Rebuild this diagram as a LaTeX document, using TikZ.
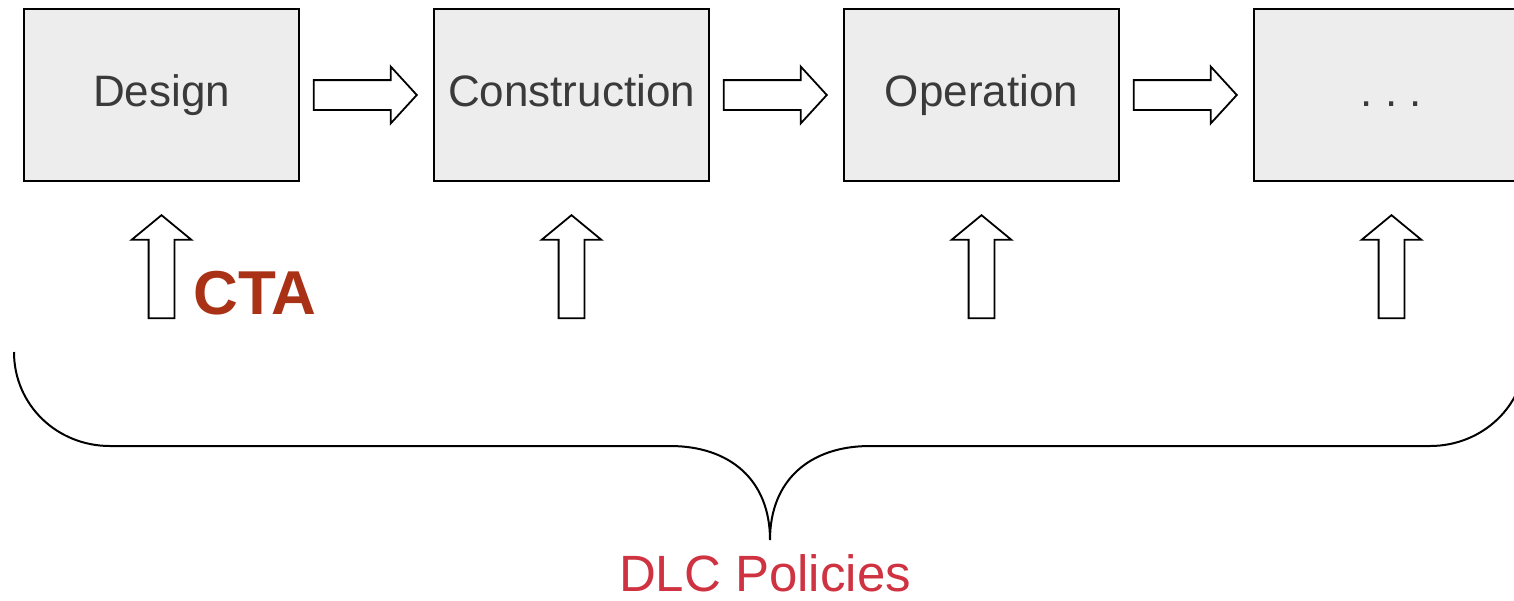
\documentclass[tikz,border=0pt]{standalone}
\usepackage{fontspec}
\setmainfont{Liberation Sans}
\usepackage{tikz}
\usetikzlibrary{calc,positioning,shapes.arrows}
\definecolor{boxfill}{RGB}{237,237,237}
\definecolor{boxtext}{RGB}{58,58,58}
\definecolor{ctared}{RGB}{169,50,22}
\definecolor{dlcred}{RGB}{207,50,64}

\begin{document}
\begin{tikzpicture}[x=1pt,y=-1pt,
    stage/.style={draw,line width=1.8pt,fill=boxfill,text=boxtext,
      minimum width=275pt,minimum height=172pt,inner sep=0pt,outer sep=0pt,
      text height=31.5pt,text depth=9.5pt,font=\fontsize{44}{50}\selectfont},
    harrow/.style={single arrow,draw,line width=1.8pt,fill=white,
      minimum height=103pt,inner xsep=0pt,inner ysep=14pt,
      single arrow head extend=13.5pt,single arrow tip angle=95,anchor=tip},
    varrow/.style={single arrow,draw,line width=1.8pt,fill=white,
      minimum height=103pt,inner xsep=0pt,inner ysep=12pt,
      single arrow head extend=17pt,single arrow tip angle=101,
      rotate=90,anchor=tip}]
    \useasboundingbox (0,0) rectangle (1514,600);
    \clip (0,0) rectangle (1514,600);
    % life-cycle stages
    \node[stage] (design) at (161.5,95) {Design};
    \node[stage,right=135pt of design] (construction) {Construction};
    \node[stage,right=135pt of construction] (operation) {Operation};
    \node[stage,right=135pt of operation] (more) {.\ .\ .};
    % flow between stages
    \node[harrow] (d2c) at ($(construction.west)+(-16,0)$) {};
    \node[harrow] (c2o) at ($(operation.west)+(-16,0)$) {};
    \node[harrow] (o2m) at ($(more.west)+(-16,0)$) {};
    % policy inputs
    \node[varrow] (updesign) at ($(design.south)+(0,33)$) {};
    \node[varrow] (upconstruction) at ($(construction.south)+(0,33)$) {};
    \node[varrow] (upoperation) at ($(operation.south)+(0,33)$) {};
    \node[varrow] (upmore) at ($(more.south)+(0,33)$) {};
    \node[text=ctared,font=\bfseries\fontsize{62}{70}\selectfont] (cta) at (255,293) {CTA};
    % brace
    \coordinate (tip) at (770,540);
    \draw[line width=2pt] (14,352) .. controls (14,405) and (57,446) .. (110,446)
      -- (670,446) .. controls (730,446) and (770,480) .. (tip)
      .. controls (770,480) and (810,446) .. (870,446)
      -- (1430,446) .. controls (1483,446) and (1526,405) .. (1526,352);
    \node[text=dlcred,font=\fontsize{51}{58}\selectfont] (policies) at ($(tip)+(-5,33)$) {DLC Policies};
\end{tikzpicture}
\end{document}
